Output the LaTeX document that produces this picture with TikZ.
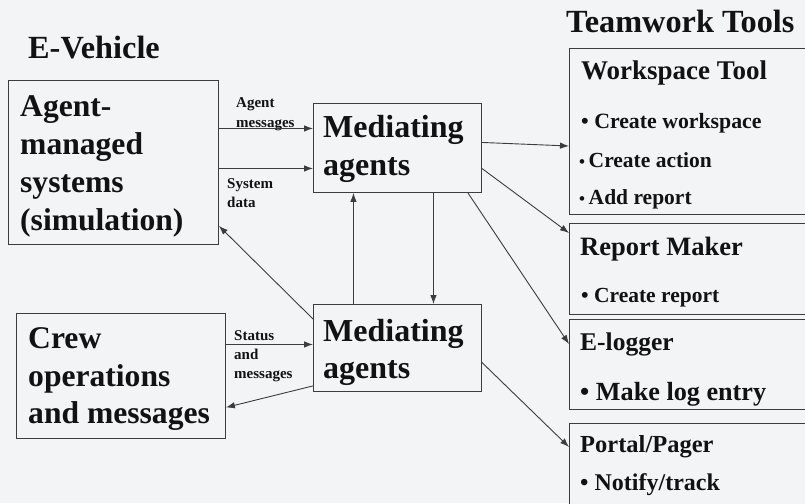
\documentclass[tikz,border=0pt]{standalone}
\usepackage{fontspec}
\setmainfont{Liberation Serif}
\usetikzlibrary{arrows.meta}
\definecolor{bg}{RGB}{243,244,246}
\definecolor{ink}{RGB}{18,18,18}
\definecolor{edge}{RGB}{60,60,60}
\tikzset{
  box/.style={draw=edge, line width=0.9pt, fill=bg, rectangle, inner sep=0pt, anchor=north west},
  txt/.style={inner sep=0pt, anchor=base west, text=ink},
  big/.style={txt, font=\fontsize{31.6}{36}\selectfont\bfseries},
  med/.style={txt, font=\fontsize{32}{36}\selectfont\bfseries},
  lbl/.style={txt, font=\fontsize{15}{16}\selectfont\bfseries},
  conn/.style={draw=edge, line width=0.9pt, -{Latex[length=9pt,width=6.5pt]}},
}
\begin{document}
\begin{tikzpicture}[x=1pt,y=-1pt]
\fill[bg] (0,0) rectangle (805,503);
\useasboundingbox (0,0) rectangle (805,503);
\clip (0,0) rectangle (805,503);

% titles
\node[txt, font=\fontsize{32.3}{36}\selectfont\bfseries] (tEV) at (28,59) {E-Vehicle};
\node[txt, font=\fontsize{32.3}{36}\selectfont\bfseries] (tTT) at (566,33) {Teamwork Tools};

% left boxes
\node[box, minimum width=210pt, minimum height=164pt] (A) at (8,80) {};
\node[big] (a1) at (20,116) {Agent-};
\node[big] (a2) at (20,154) {managed};
\node[big] (a3) at (20,192) {systems};
\node[big] (a4) at (20,230) {(simulation)};

\node[box, minimum width=209pt, minimum height=125pt] (C) at (16,313) {};
\node[big] (c1) at (28,348) {Crew};
\node[big] (c2) at (28,386) {operations};
\node[big] (c3) at (28,423) {and messages};

% mediating boxes
\node[box, minimum width=168pt, minimum height=89pt] (M1) at (313,103) {};
\node[med] (m1a) at (323,137) {Mediating};
\node[med] (m1b) at (323,175) {agents};

\node[box, minimum width=168pt, minimum height=87pt] (M2) at (313,304) {};
\node[med] (m2a) at (323,341) {Mediating};
\node[med] (m2b) at (323,378) {agents};

% tool boxes
\node[box, minimum width=261pt, minimum height=166pt] (W) at (569,48) {};
\node[txt, font=\fontsize{27}{30}\selectfont\bfseries] (w0) at (581,79) {Workspace Tool};
\node[txt, font=\fontsize{21.8}{24}\selectfont\bfseries] (w1) at (581,128) {\textbullet\ Create workspace};
\node[txt, font=\fontsize{21.5}{24}\selectfont\bfseries] (w2) at (579,167) {{\fontsize{17}{20}\selectfont\textbullet}\,Create action};
\node[txt, font=\fontsize{21.5}{24}\selectfont\bfseries] (w3) at (579,204) {{\fontsize{17}{20}\selectfont\textbullet}\,Add report};

\node[box, minimum width=261pt, minimum height=91pt] (R) at (569,223) {};
\node[txt, font=\fontsize{26.5}{30}\selectfont\bfseries] (r0) at (580,255) {Report Maker};
\node[txt, font=\fontsize{21.5}{24}\selectfont\bfseries] (r1) at (581,302) {\textbullet\ Create report};

\node[box, minimum width=261pt, minimum height=90pt] (E) at (569,319) {};
\node[txt, font=\fontsize{25.5}{30}\selectfont\bfseries] (e0) at (580,350) {E-logger};
\node[txt, font=\fontsize{26.2}{30}\selectfont\bfseries] (e1) at (580,400) {\textbullet\ Make log entry};

\node[box, minimum width=261pt, minimum height=100pt] (P) at (569,423) {};
\node[txt, font=\fontsize{24.5}{28}\selectfont\bfseries] (p0) at (580,452) {Portal/Pager};
\node[txt, font=\fontsize{24}{28}\selectfont\bfseries] (p1) at (580,490) {\textbullet\ Notify/track};

% small labels
\node[lbl] (l1) at (236,107) {Agent};
\node[lbl] (l2) at (236,127) {messages};
\node[lbl] (l3) at (227,188) {System};
\node[lbl] (l4) at (227,207) {data};
\node[lbl] (l5) at (234,340) {Status};
\node[lbl] (l6) at (234,359) {and};
\node[lbl] (l7) at (234,378) {messages};

% connectors
\draw[conn] ([yshift=34pt]A.east) coordinate (am) -- (am -| M1.west);
\draw[conn] ([yshift=-6pt]A.east) coordinate (sd) -- (sd -| M1.west);
\draw[conn] ([yshift=-15pt]M2.north west) -- ([yshift=19pt]A.south east);
\draw[conn] ([xshift=-44pt]M2.north) coordinate (up) -- (up |- M1.south);
\draw[conn] ([xshift=36pt]M1.south) coordinate (dn) -- (dn |- M2.north);
\draw[conn] ([yshift=31.5pt]C.east) coordinate (st) -- (st -| M2.west);
\draw[conn] ([yshift=6pt]M2.south west) -- ([yshift=-31.5pt]C.east);
\draw[conn] ([yshift=5.5pt]M1.east) -- ([yshift=-98pt]W.north west);
\draw[conn] ([yshift=-20.5pt]M1.east) -- ([yshift=-10pt]R.north west);
\draw[conn] ([xshift=-14pt]M1.south east) -- ([yshift=-25pt]E.north west);
\draw[conn] ([yshift=-14.5pt]M2.east) -- ([yshift=-24pt]P.north west);
\end{tikzpicture}
\end{document}
